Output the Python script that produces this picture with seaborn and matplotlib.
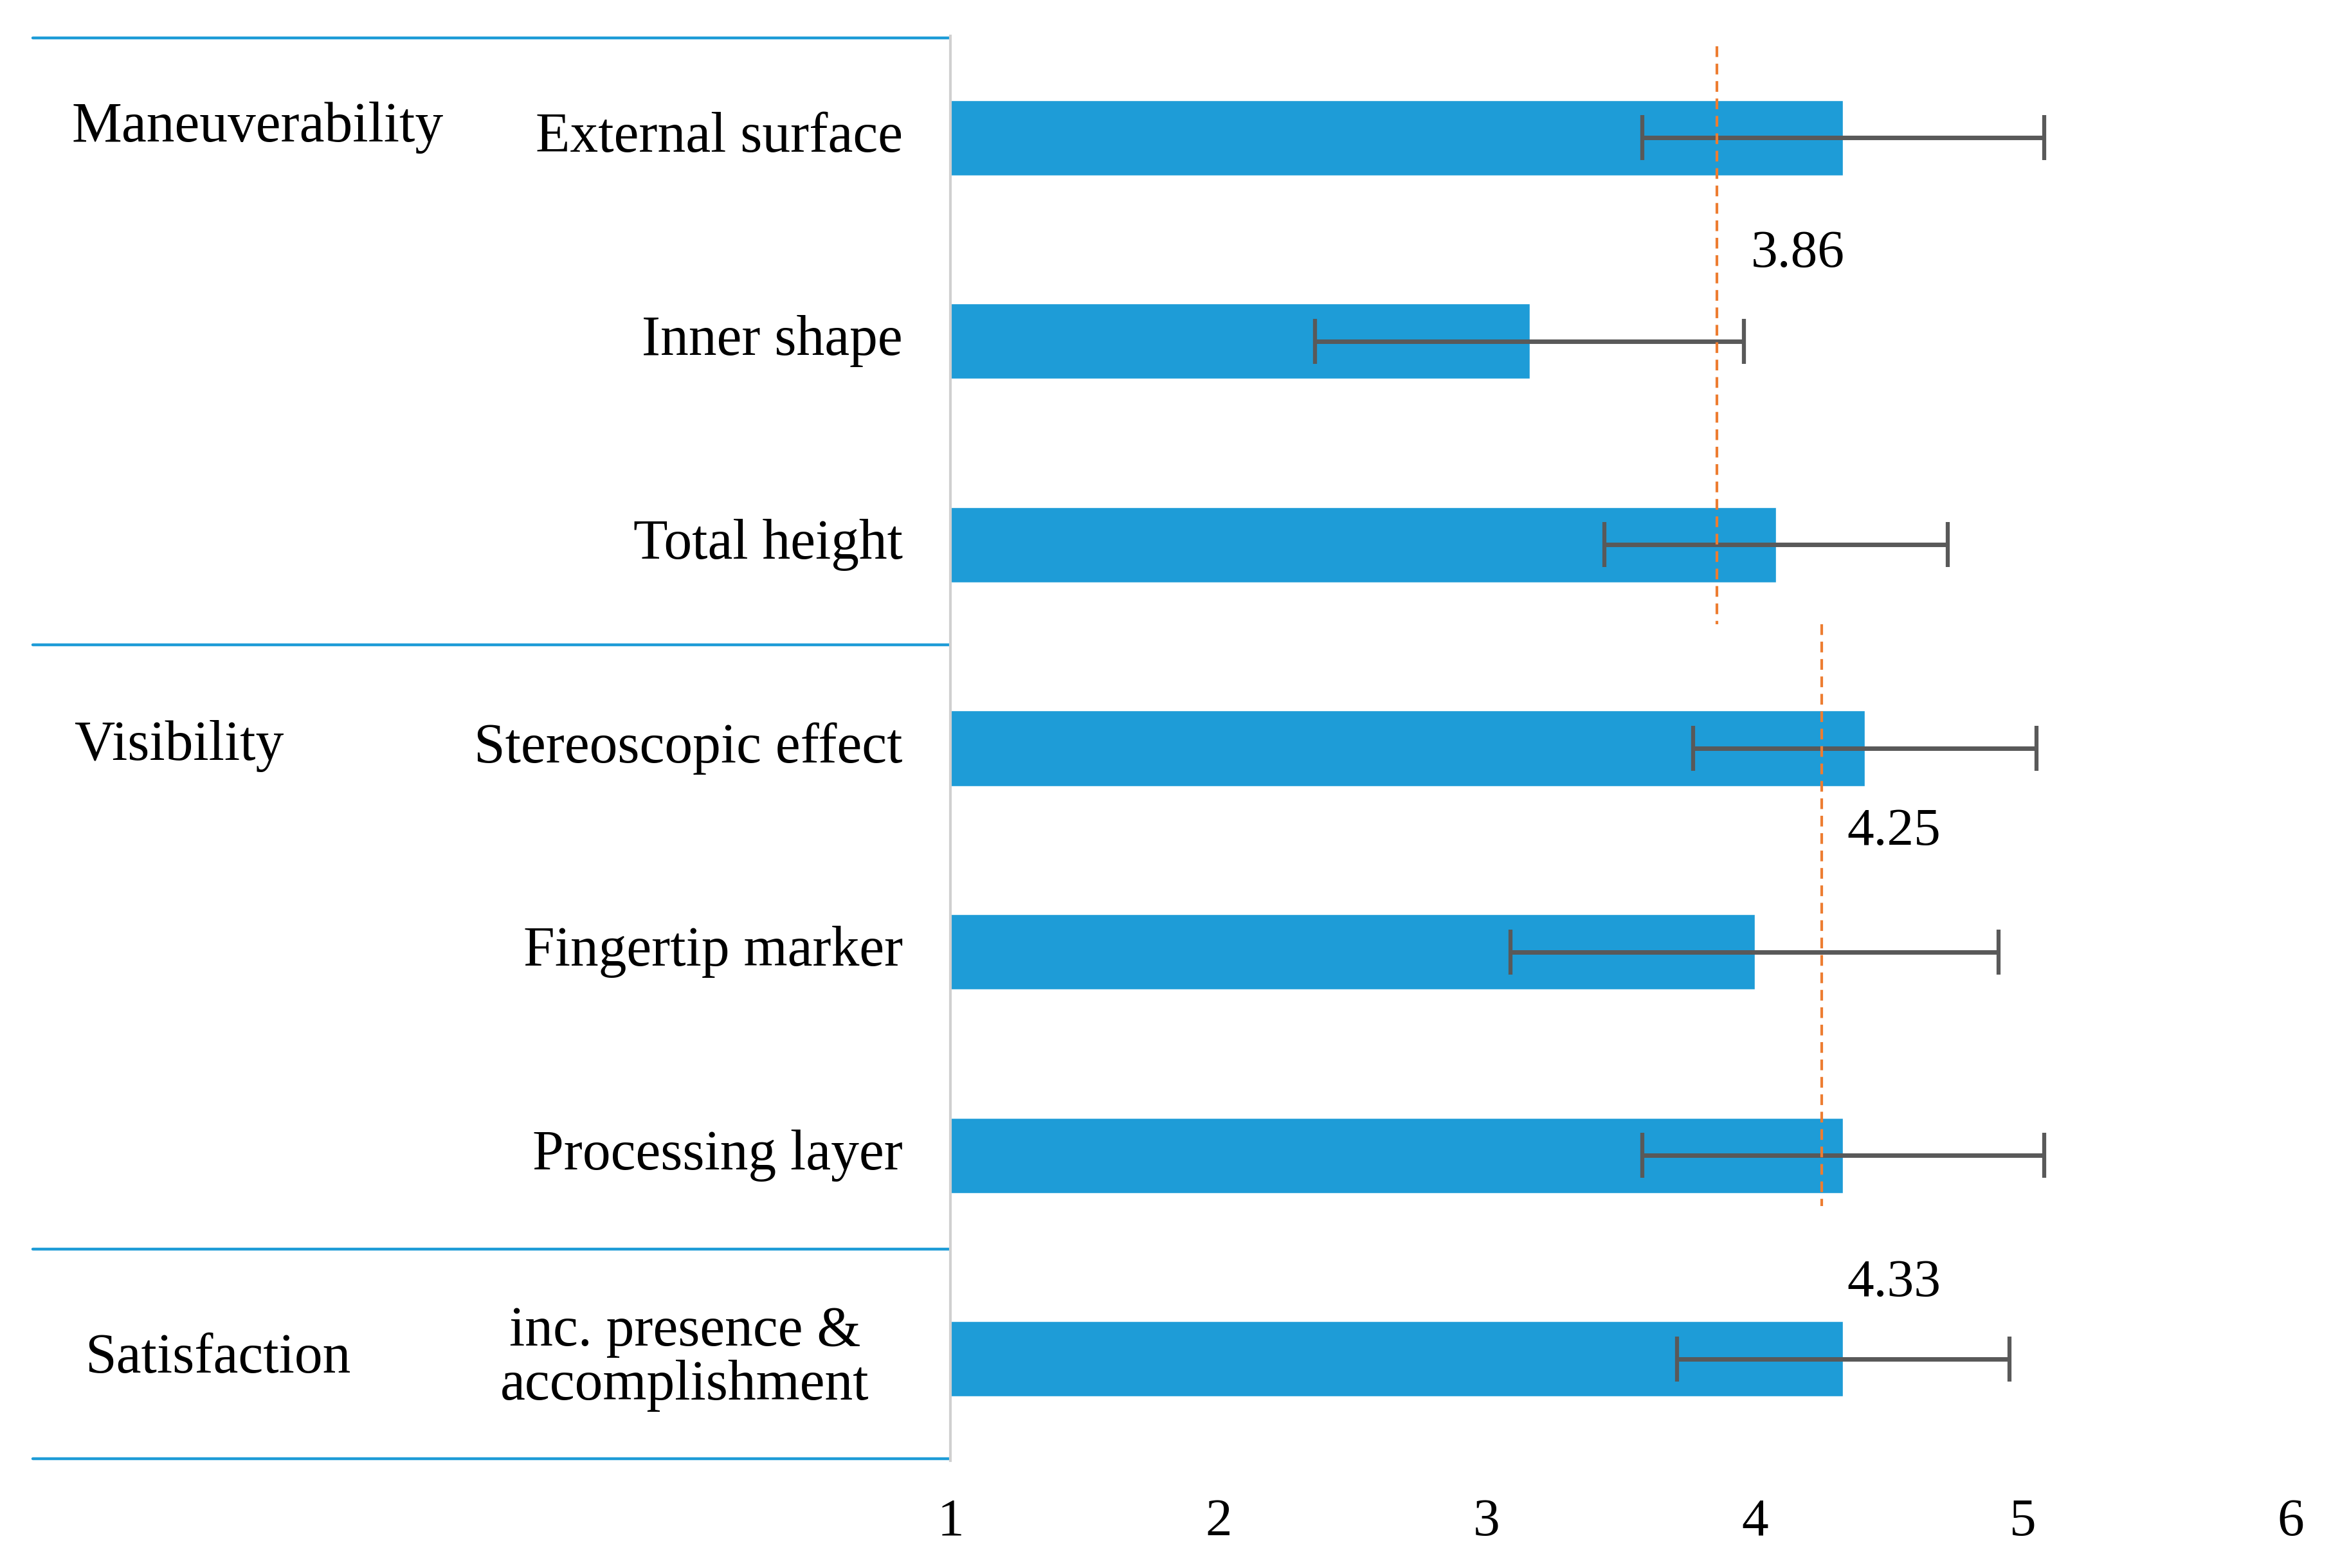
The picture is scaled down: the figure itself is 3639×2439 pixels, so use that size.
import seaborn as sns
import pandas as pd
import numpy as np
import matplotlib.pyplot as plt
import matplotlib.transforms as mtransforms

# 評価項目ごとの平均値と標準偏差
items = ["External surface", "Inner shape", "Total height",
         "Stereoscopic effect", "Fingertip marker", "Processing layer",
         "inc. presence &\naccomplishment"]
means = [4.33, 3.16, 4.08, 4.41, 4.00, 4.33, 4.33]
sds = [0.75, 0.80, 0.64, 0.64, 0.91, 0.75, 0.62]

groups = ["Maneuverability", "Visibility", "Satisfaction"]
group_rows = [-0.05, 2.99, 6.0]
group_x = [0.0306, 0.0319, 0.0364]
borders = [-0.49, 2.49, 5.46, 6.49]

avg_values = [3.86, 4.25]
avg_spans = [(-0.45, 2.39), (2.39, 5.25)]
avg_labels = ["3.86", "4.25", "4.33"]
avg_label_pos = [(4.16, 0.57), (4.52, 3.41), (4.52, 5.63)]

xticks = [1, 2, 3, 4, 5, 6]

sns.set_theme(style="white")
plt.rcParams['font.family'] = ['Liberation Serif', 'DejaVu Serif']
plt.rcParams['text.color'] = 'black'
plt.rcParams['xtick.color'] = 'black'

df = pd.DataFrame({"item": items, "mean": means, "sd": sds})

fig = plt.figure(figsize=(36.39, 24.39), dpi=100)
ax = fig.add_axes([0.4062, 0.0685, 0.5728, 0.9085])

blue = "#1E9CD7"
sns.barplot(data=df, y="item", x="mean", orient="h", color=blue,
            width=0.37, errorbar=None, saturation=1, ax=ax)
ax.errorbar(df["mean"], np.arange(len(items)), xerr=df["sd"], fmt="none",
            ecolor="#595959", elinewidth=5, capsize=25, capthick=4.5)

ax.set_xlim(1, 6)
ax.set_ylim(6.5, -0.5)
ax.set_xticks(xticks)
ax.set_xticklabels([str(t) for t in xticks], fontsize=60)
ax.tick_params(axis="x", length=0, pad=42)
ax.set_yticks([])
ax.set_xlabel("")
ax.set_ylabel("")
for s in ["top", "right", "bottom"]:
    ax.spines[s].set_visible(False)
ax.spines["left"].set_color("#D0D0D0")
ax.spines["left"].set_linewidth(3)

# 平均値の破線
for v, (y0, y1) in zip(avg_values, avg_spans):
    ax.plot([v, v], [y0, y1], color="#ED7D31", lw=3, ls=(0, (4, 2.5)))
for lab, (lx, ly) in zip(avg_labels, avg_label_pos):
    ax.text(lx, ly, lab, fontsize=60, ha="center", va="center", color="black")

# 左側の表部分
trans = mtransforms.blended_transform_factory(fig.transFigure, ax.transData)
for b in borders:
    ax.plot([0.014, 0.4056], [b, b], color=blue, lw=3.2, transform=trans,
            clip_on=False)
for g, gy, gx in zip(groups, group_rows, group_x):
    ax.text(gx, gy, g, fontsize=63, ha="left", va="center",
            transform=trans)
for i, it in enumerate(items):
    if "\n" in it:
        ax.text(0.2927, i, it, fontsize=63, ha="center", va="center",
                multialignment="center", linespacing=1.05, transform=trans)
    else:
        ax.text(0.3858, i, it, fontsize=63, ha="right", va="center",
                transform=trans)

fig.savefig("out.png", dpi=100)
